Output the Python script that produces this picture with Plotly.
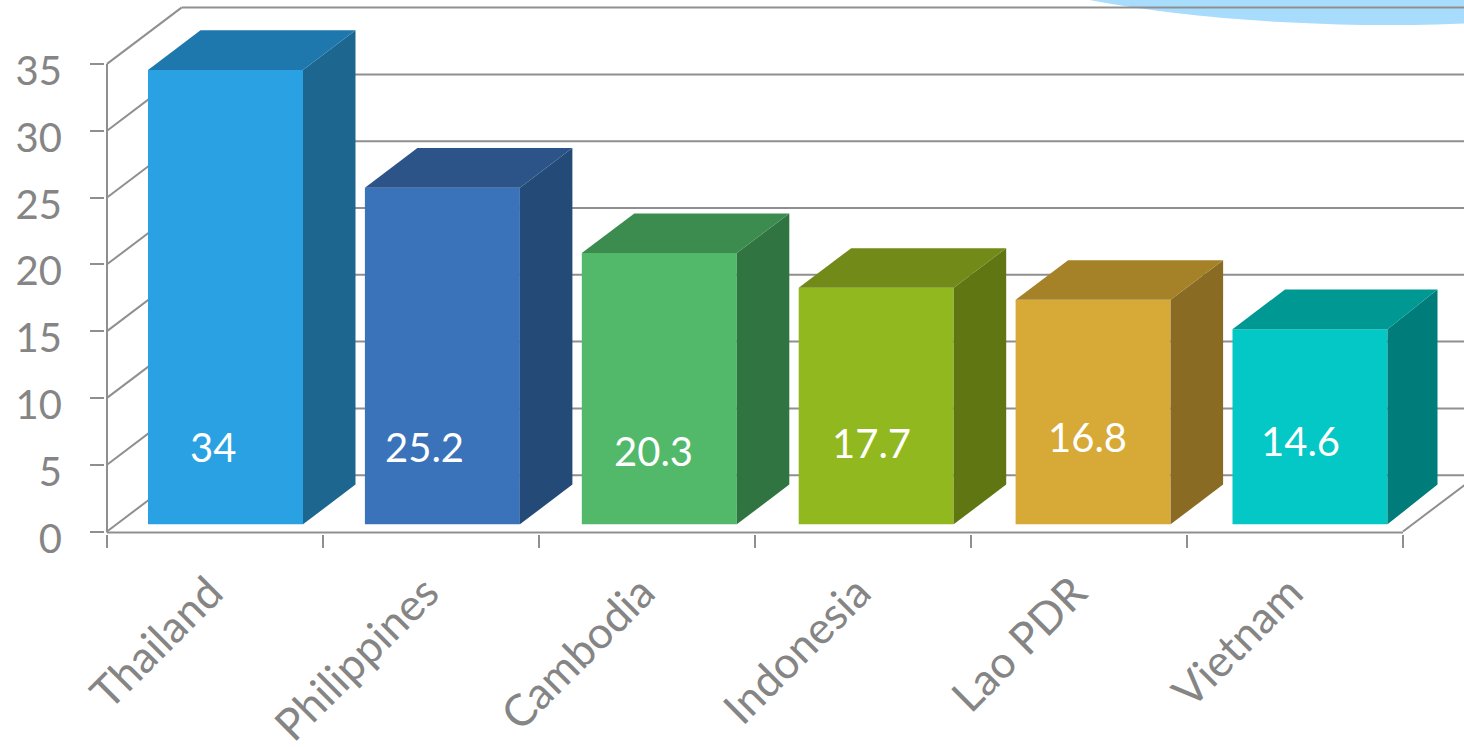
import plotly.graph_objects as go

categories = ["Thailand", "Philippines", "Cambodia", "Indonesia", "Lao PDR", "Vietnam"]
values = [34, 25.2, 20.3, 17.7, 16.8, 14.6]
value_labels = ["34", "25.2", "20.3", "17.7", "16.8", "14.6"]
front_colors = ["#2aa1e2", "#3b73ba", "#52b96b", "#92b81f", "#d7a936", "#03c8c5"]
side_colors = ["#1c668f", "#244a78", "#307541", "#5f7612", "#8a6b24", "#007d7a"]
top_colors = ["#1e78ae", "#2c5489", "#3c8c4f", "#728a17", "#a58128", "#009892"]
y_ticks = [0, 5, 10, 15, 20, 25, 30, 35]
label_dx = [-0.01, -0.03, 0.029, 0.04, 0.04, 0.025]
label_y = [6.3, 6.3, 6.0, 6.6, 7.1, 6.8]

W, H = 1464, 747
AXIS_X, ZERO_PX = 107, 531.5
PLOT_LEFT, PLOT_BOTTOM = 105, 534
BAND, K = 216.0, 13.36
GREY = "#8f8f8f"
TEXT = "#858585"

bar_w = 155 / BAND
bar_off = 10.5 / BAND
bar_pitch = 216.9 / BAND
bar_base = 7.2 / K
bar_dx, bar_dy = 52.5 / BAND, 39.7 / K
side_dx = [52.5 / BAND] * 5 + [50 / BAND]
wall_dx, wall_dy = 74.5 / BAND, 56.3 / K
x_axis0 = -0.5
x_lo, x_hi = -0.5 - (AXIS_X - PLOT_LEFT) / BAND, -0.5 + (W - AXIS_X) / BAND
y_lo, y_hi = -(PLOT_BOTTOM - ZERO_PX) / K, ZERO_PX / K
x_end = len(categories) - 0.5
bar_x = [i * bar_pitch + bar_off for i in range(len(values))]

fig = go.Figure()
fig.add_trace(go.Bar(
    x=bar_x, y=values, base=bar_base, width=bar_w,
    marker=dict(color=front_colors, line=dict(width=0)), showlegend=False, hoverinfo="skip", xaxis="x", yaxis="y"))

for i, v in enumerate(values):
    l = bar_x[i] - bar_w / 2
    r = bar_x[i] + bar_w / 2
    t = bar_base + v
    sd = side_dx[i]
    fig.add_trace(go.Scatter(
        x=[r, r + sd, r + sd, r, r], y=[bar_base, bar_base + bar_dy, t + bar_dy, t, bar_base],
        mode="lines", fill="toself", fillcolor=side_colors[i], line=dict(width=0),
        showlegend=False, hoverinfo="skip"))
    fig.add_trace(go.Scatter(
        x=[l, l + bar_dx, r + sd, r, l], y=[t, t + bar_dy, t + bar_dy, t, t],
        mode="lines", fill="toself", fillcolor=top_colors[i], line=dict(width=0),
        showlegend=False, hoverinfo="skip"))

# second axis only for the tick marks on category boundaries
fig.add_trace(go.Scatter(x=[x_lo], y=[0], xaxis="x2", yaxis="y", mode="markers",
                         marker=dict(opacity=0), showlegend=False, hoverinfo="skip"))

shapes = []
def px(x): return (x - PLOT_LEFT) / (W - PLOT_LEFT)
def py(y): return (PLOT_BOTTOM - y) / PLOT_BOTTOM

shapes.append(dict(type="circle", xref="paper", yref="paper", layer="below",
                   x0=px(891), x1=px(1885), y0=py(25), y1=py(-225),
                   fillcolor="#a8dcfc", line=dict(width=0)))
shapes.append(dict(type="circle", xref="paper", yref="paper", layer="below",
                   x0=px(1400), x1=px(2000), y0=py(8), y1=py(-200),
                   fillcolor="#8fd4fa", line=dict(width=0)))
grid = dict(xref="x", yref="y", type="line", layer="below", line=dict(color=GREY, width=2))
for t in y_ticks:
    shapes.append(dict(x0=x_axis0, y0=t, x1=x_axis0 + wall_dx, y1=t + wall_dy, **grid))
    shapes.append(dict(x0=x_axis0 + wall_dx, y0=t + wall_dy, x1=x_hi, y1=t + wall_dy, **grid))
shapes.append(dict(x0=x_end, y0=0, x1=x_end + wall_dx, y1=wall_dy, **grid))
shapes.append(dict(x0=x_axis0, y0=-0.08, x1=x_axis0, y1=35, **grid))
shapes.append(dict(x0=x_axis0, y0=-0.08, x1=x_end, y1=-0.08, **grid))

annotations = [
    dict(x=i + label_dx[i], y=label_y[i], xref="x", yref="y", text=value_labels[i], showarrow=False,
         font=dict(family="Lato", size=40, color="white"), xanchor="center", yanchor="middle")
    for i in range(len(values))
]

fig.update_layout(
    width=W, height=H, margin=dict(l=PLOT_LEFT, r=0, t=0, b=H - PLOT_BOTTOM, pad=0),
    paper_bgcolor="white", plot_bgcolor="rgba(0,0,0,0)", barmode="overlay",
    shapes=shapes, annotations=annotations, showlegend=False,
    xaxis=dict(range=[x_lo, x_hi], tickmode="array", tickvals=list(range(len(categories))), ticktext=categories,
               tickangle=-45, ticks="", showgrid=False, zeroline=False, showline=False,
               tickfont=dict(family="Lato", size=44, color=TEXT), ticklabelstandoff=23, ticklabelshift=-5, automargin=False),
    xaxis2=dict(overlaying="x", anchor="y", side="bottom", range=[x_lo, x_hi], tickmode="array",
                tickvals=[i - 0.5 for i in range(len(categories) + 1)], ticks="outside", ticklen=13,
                tickwidth=2, tickcolor=GREY, showticklabels=False, showgrid=False, zeroline=False, showline=False),
    yaxis=dict(range=[y_lo, y_hi], tickmode="array", tickvals=y_ticks, ticks="outside", ticklen=14,
               tickwidth=2, tickcolor=GREY, showgrid=False, zeroline=False, showline=False,
               tickfont=dict(family="Lato", size=40, color=TEXT), ticklabelstandoff=20, ticklabelshift=7, automargin=False),
)
fig.write_html("out.html", config=dict(displayModeBar=False),
               post_script="document.body.style.margin='0';document.documentElement.style.overflow='hidden';")
